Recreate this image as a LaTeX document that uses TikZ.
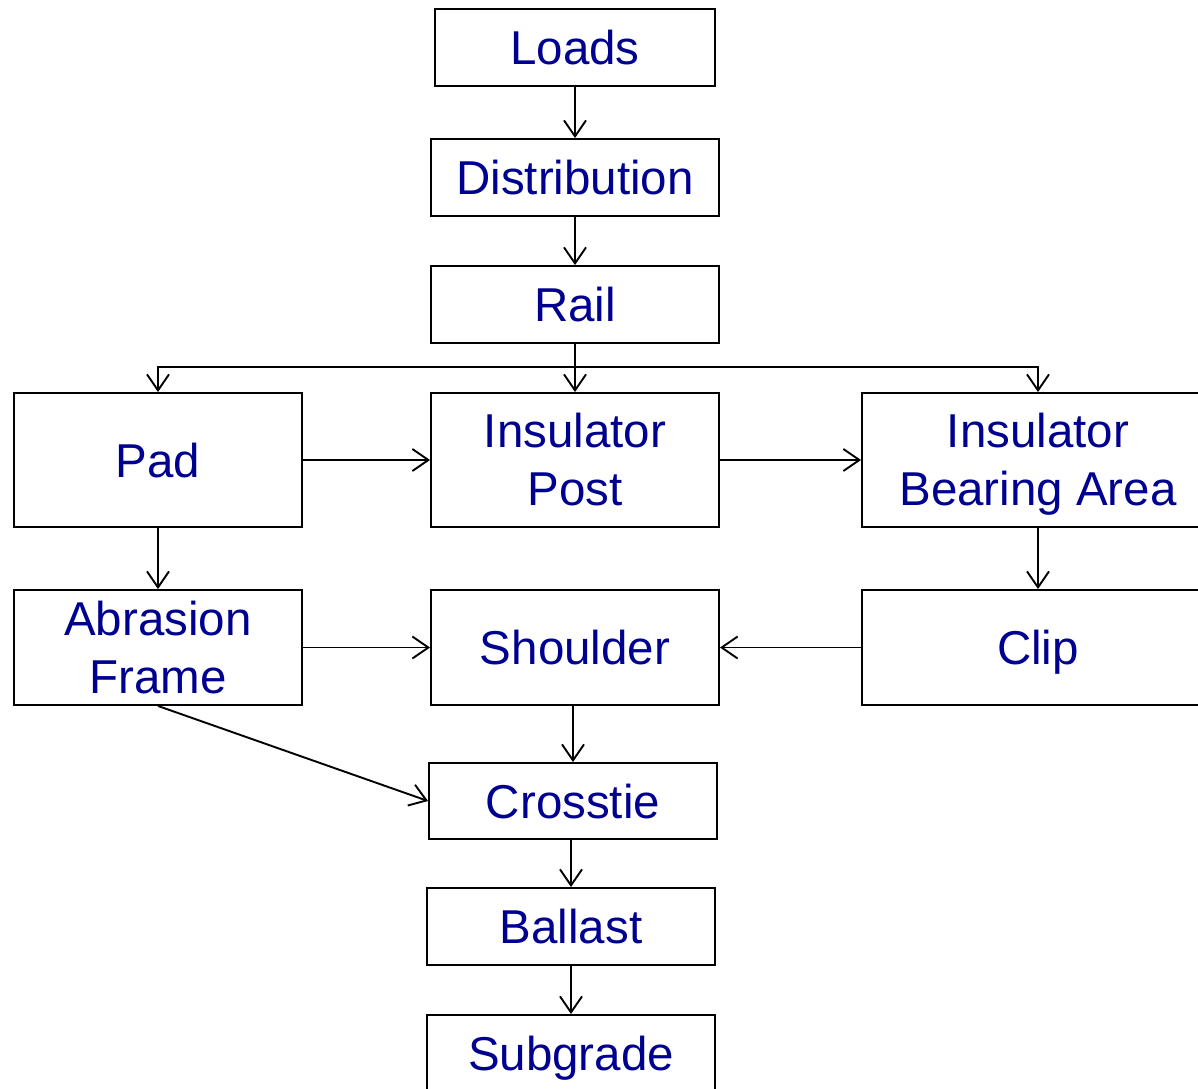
\documentclass[tikz,border=0pt]{standalone}
\usepackage{fontspec}
\setmainfont{Liberation Sans}
\usetikzlibrary{arrows.meta}
\definecolor{labelblue}{HTML}{000090}
\begin{document}
\begin{tikzpicture}[x=1pt,y=-1pt,
  box/.style={draw=black, line width=1.9pt, fill=white, text=labelblue,
    inner sep=0pt, align=center,
    font=\fontsize{47.5}{58}\selectfont},
  % fixed text boxes, so that descenders do not move the labels
  oneline/.style={box, text height=44pt, text depth=10pt},
  twoline/.style={box, text height=101pt, text depth=10pt},
  arr/.style={line width=1.9pt, -{Straight Barb[length=16pt,width=22pt,line width=1.9pt]}},
  ln/.style={line width=1.9pt}]
  \useasboundingbox (0,0) rectangle (1198,1088);
  \begin{scope}
  \clip (0,0) rectangle (1198,1088);
  % main column
  \node[oneline, minimum width=280pt, minimum height=77pt] (loads) at (575,47.5) {Loads};
  \node[oneline, minimum width=288pt, minimum height=77pt] (dist) at (575,177.5) {Distribution};
  \node[oneline, minimum width=288pt, minimum height=77pt] (rail) at (575,304.5) {Rail};
  % fastening row
  \node[oneline, minimum width=288pt, minimum height=134pt] (pad) at (158,460) {Pad};
  \node[twoline, minimum width=288pt, minimum height=134pt] (post) at (575,460) {Insulator\\Post};
  \node[twoline, minimum width=352pt, minimum height=134pt] (iba) at (1038,460) {Insulator\\Bearing Area};
  \node[twoline, minimum width=288pt, minimum height=115pt] (abr) at (158,647.5) {Abrasion\\Frame};
  \node[oneline, minimum width=288pt, minimum height=115pt] (sho) at (575,647.5) {Shoulder};
  \node[oneline, minimum width=352pt, minimum height=115pt] (clip) at (1038,647.5) {Clip};
  % support column
  \node[oneline, minimum width=288pt, minimum height=76pt] (cross) at (573,801) {Crosstie};
  \node[oneline, minimum width=288pt, minimum height=77pt] (ball) at (571,926.5) {Ballast};
  \node[oneline, minimum width=288pt, minimum height=77pt] (sub) at (571,1053.5) {Subgrade};
  % connectors
  \draw[arr] (loads) -- (dist);
  \draw[arr] (dist) -- (rail);
  \coordinate (split) at (575,367);
  \draw[ln] (rail.south) -- (split);
  \draw[arr] (split) -| (pad.north);
  \draw[arr] (split) -- (post.north);
  \draw[arr] (split) -| (iba.north);
  \draw[arr] (pad) -- (post);
  \draw[arr] (post) -- (iba);
  \draw[arr] (pad) -- (abr);
  \draw[arr] (iba) -- (clip);
  \draw[arr] (abr) -- (sho);
  \draw[arr] (clip) -- (sho);
  \draw[arr] (sho.south -| cross.north) -- (cross.north);
  \draw[arr] (abr.south) -- (cross.west);
  \draw[arr] (cross.south -| ball.north) -- (ball.north);
  \draw[arr] (ball) -- (sub);
  \end{scope}
\end{tikzpicture}
\end{document}
